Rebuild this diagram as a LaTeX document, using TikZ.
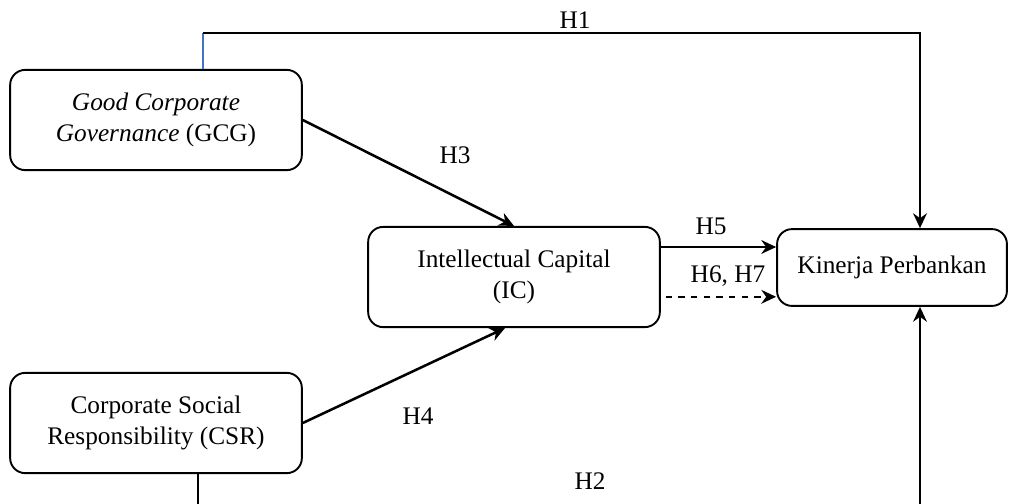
\documentclass[tikz,border=0pt]{standalone}
\usepackage{fontspec}
\setmainfont{Liberation Serif}
\usetikzlibrary{arrows.meta}

\definecolor{linkblue}{RGB}{68,114,196}

\begin{document}
\begin{tikzpicture}[x=0.01667cm,y=-0.01667cm]
	\tikzset{varbox/.style={draw,rounded corners=0.25cm,line width=0.9pt,align=center,
		font=\fontsize{12}{15}\selectfont,minimum width=4.86cm,minimum height=1.67cm}}
	\tikzset{link/.style={line width=1.2pt,-{Stealth[length=7pt,width=6.5pt]}}}
	\tikzset{hlabel/.style={font=\fontsize{12}{15}\selectfont}}

	\useasboundingbox (0,0) rectangle (1009,503);
	\clip (0,0) rectangle (1009,503);

	\node[varbox] (gcg) at (156,120) {\textit{Good Corporate}\\\textit{Governance} (GCG)};
	\node[varbox] (ic) at (514,277) {Intellectual Capital\\(IC)};
	\node[varbox] (csr) at (156,423) {Corporate Social\\Responsibility (CSR)};
	\node[varbox,minimum width=3.83cm,minimum height=1.28cm] (kp) at (892,267.5) {Kinerja Perbankan};

	\coordinate (h1a) at (203,33);
	\coordinate (h1b) at (920,33);
	\draw[linkblue,line width=1.1pt] (gcg.north -| h1a) -- (h1a);
	\draw[link] (h1a) -- (h1b) -- (kp.north -| h1b);
	\node[hlabel] (h1) at (575,20) {H1};

	\draw[link] (gcg.east) -- (ic.north);
	\node[hlabel] (h3) at (455,155) {H3};

	\draw[link] (csr.east) -- ([xshift=-0.15cm]ic.south);
	\node[hlabel] (h4) at (418,416) {H4};

	\coordinate (h5a) at ([yshift=0.5cm]ic.east);
	\draw[link] (h5a) -- (h5a -| kp.west);
	\node[hlabel] (h5) at (711,226) {H5};

	\coordinate (h67a) at ([xshift=0.08cm,yshift=-0.33cm]ic.east);
	\draw[link,dashed] (h67a) -- (h67a -| kp.west);
	\node[hlabel] (h67) at (728,276) {H6, H7};

	\coordinate (h2a) at (198,515);
	\coordinate (h2b) at (920,515);
	\draw[link] (csr.south -| h2a) -- (h2a) -- (h2b) -- (kp.south -| h2b);
	\node[hlabel] (h2) at (590,481) {H2};

\end{tikzpicture}
\end{document}
